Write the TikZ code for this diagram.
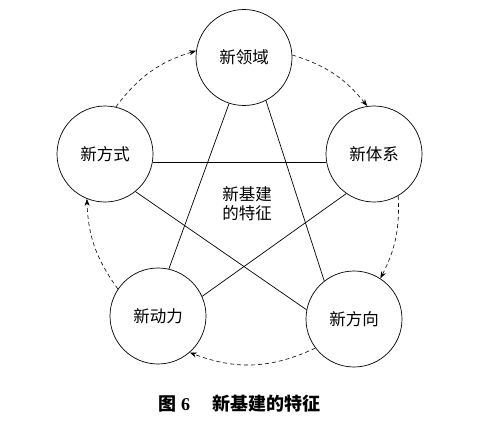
\documentclass[tikz,border=0pt]{standalone}
\usepackage{fontspec}
\setmainfont{Liberation Serif}
\newfontfamily\cjk{Noto Sans CJK SC}
\usetikzlibrary{arrows.meta}
\tikzset{
  featnode/.style = {circle, draw, line width=0.7pt, minimum size=96pt,
                     inner sep=0pt, font=\cjk\fontsize{16.5}{19}\selectfont},
  link/.style     = {line width=0.7pt},
  flow/.style     = {-{Stealth[length=7pt,width=5pt]}, line width=0.6pt,
                     dash pattern=on 4pt off 3pt},
  midlab/.style   = {align=center, font=\cjk\fontsize{16.5}{19}\selectfont},
  caplab/.style   = {font=\fontsize{18}{21}\selectfont},
}

\begin{document}
\begin{tikzpicture}[x=1pt,y=1pt]
\useasboundingbox (0,0) rectangle (486,432);
\node[featnode] (ly) at (244,374.5) {新领域};
\node[featnode] (tx) at (374,278)   {新体系};
\node[featnode] (fx) at (354,113)   {新方向};
\node[featnode] (dl) at (158,116)   {新动力};
\node[featnode] (fs) at (105,278)   {新方式};
\node[midlab]   (mid) at (247,228) {新基建\\的特征};
% star lines
\draw[link] (fs.350) -- (tx.190);
\draw[link] (ly.252) -- (dl.77);
\draw[link] (ly.297) -- (fx.128);
\draw[link] (fs.309) -- (fx.169);
\draw[link] (tx.235) -- (dl.24);
% outer cycle
\draw[flow] (fs.77)  to[bend left=18] (ly.172);
\draw[flow] (ly.3)   to[bend left=17] (tx.98);
\draw[flow] (tx.300) to[bend left=15] (fx.57);
\draw[flow] (fx.217) to[bend left=23] (dl.311);
\draw[flow] (dl.146) to[bend left=17] (fs.248);
\node[caplab] (cap) at (239,28)
  {{\cjk\bfseries 图}\hspace{5pt}\textbf{6}\hspace{22pt}{\cjk\bfseries 新基建的特征}};
\end{tikzpicture}
\end{document}
